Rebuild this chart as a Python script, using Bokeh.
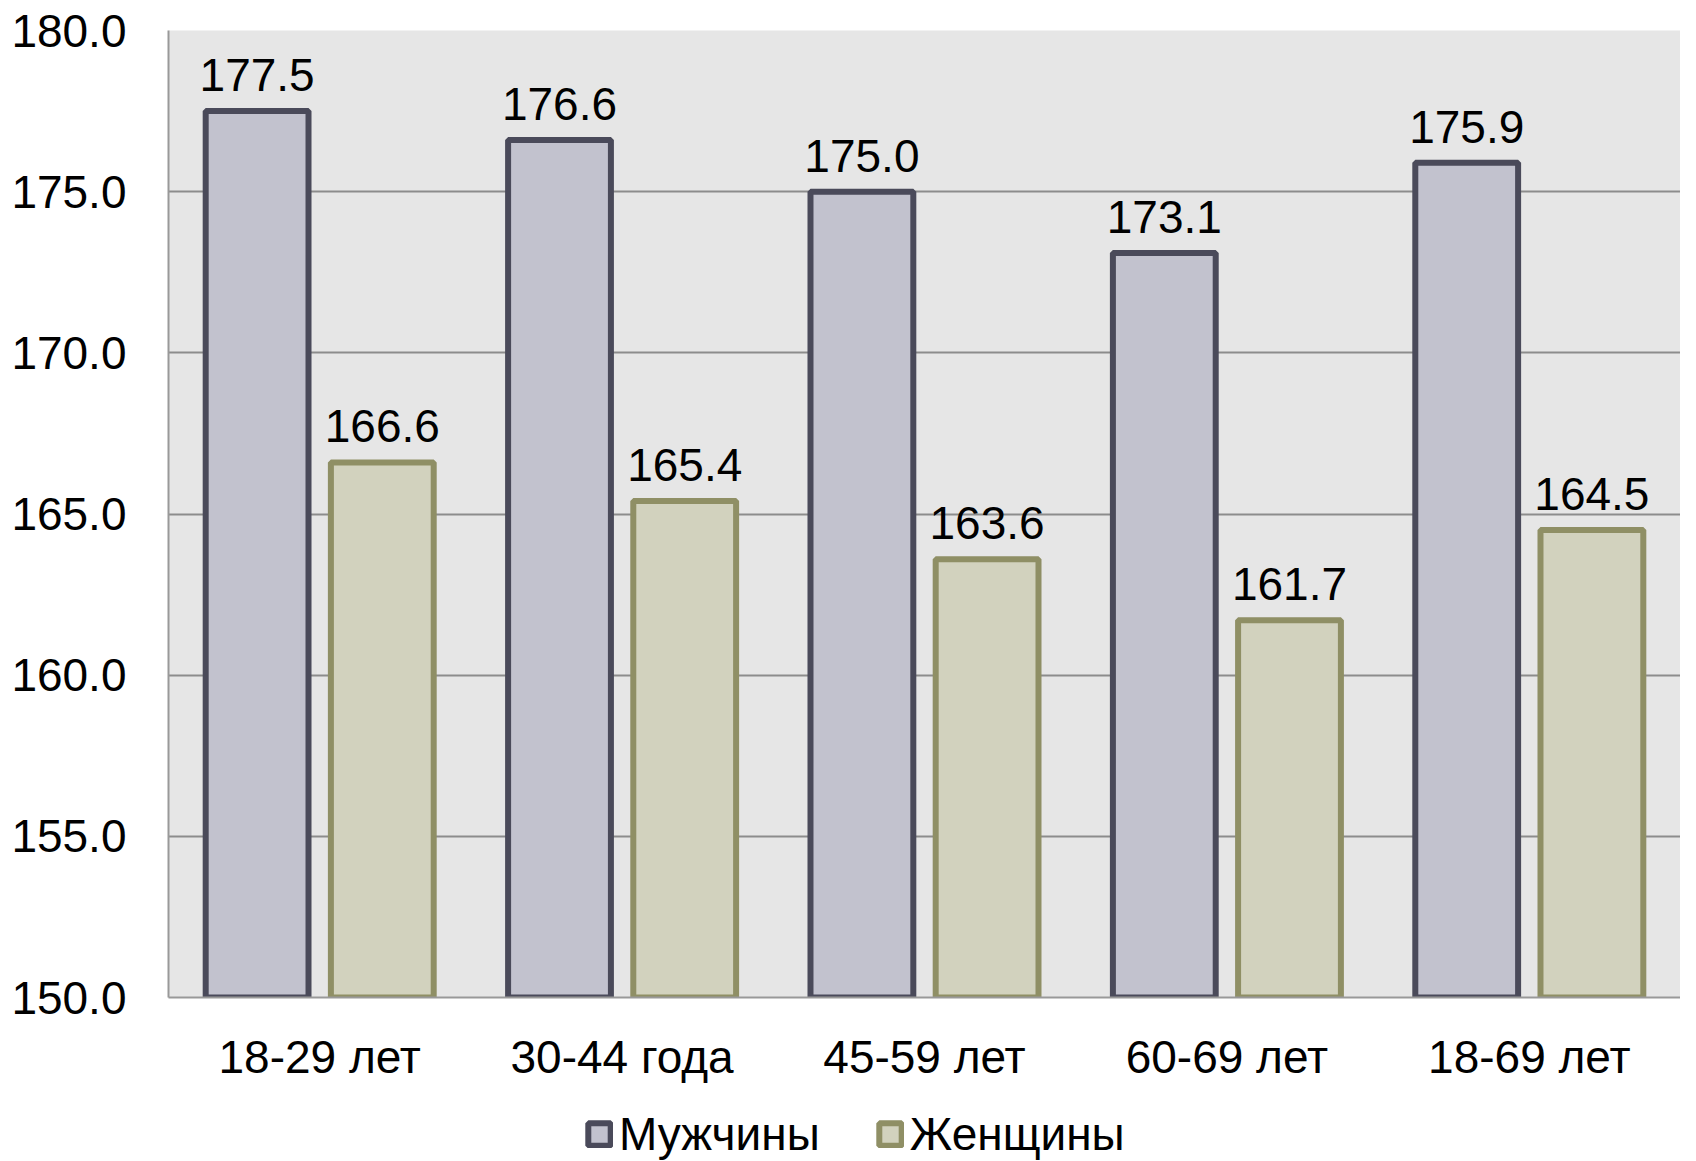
from bokeh.plotting import figure
from bokeh.layouts import column
from bokeh.models import (ColumnDataSource, FactorRange, Legend, LegendItem,
                          FixedTicker, NumeralTickFormatter)
from bokeh.transform import dodge
from bokeh.core.properties import value
from bokeh.embed import file_html
from bokeh.resources import INLINE

categories = ["18-29 лет", "30-44 года", "45-59 лет", "60-69 лет", "18-69 лет"]
men = [177.5, 176.6, 175.0, 173.1, 175.9]
women = [166.6, 165.4, 163.6, 161.7, 164.5]
y_ticks = [150, 155, 160, 165, 170, 175, 180]
series_names = ["Мужчины", "Женщины"]

FONT = "Liberation Sans"
FS = "46px"
MEN_FILL, MEN_LINE = "#C2C2CE", "#4A4A5A"
WOM_FILL, WOM_LINE = "#D2D2BE", "#8F8F65"

src = ColumnDataSource(dict(
    cat=categories, men=men, women=women,
    men_lbl=[f"{v:.1f}" for v in men],
    women_lbl=[f"{v:.1f}" for v in women],
))

p = figure(x_range=FactorRange(*categories), y_range=(150, 180),
           frame_width=1512, frame_height=967, output_backend="svg",
           toolbar_location=None, min_border_left=168, min_border_right=0,
           min_border_top=30, min_border_bottom=104)

p.border_fill_color = "white"
p.outline_line_color = None

bw = 0.34
off = 0.207
p.vbar(x=dodge("cat", -off, range=p.x_range), top="men", bottom=150,
       width=bw, source=src, fill_color=MEN_FILL, line_color=MEN_LINE, line_width=6)
p.vbar(x=dodge("cat", off, range=p.x_range), top="women", bottom=150,
       width=bw, source=src, fill_color=WOM_FILL, line_color=WOM_LINE, line_width=6)

p.text(x=dodge("cat", -off, range=p.x_range), y="men", text="men_lbl",
       source=src, text_align="center", text_baseline="bottom", y_offset=-20,
       text_font=value(FONT), text_font_size=FS, text_color="black")
p.text(x=dodge("cat", off, range=p.x_range), y="women", text="women_lbl",
       source=src, text_align="center", text_baseline="bottom", y_offset=-20,
       text_font=value(FONT), text_font_size=FS, text_color="black")

p.background_fill_color = "#E6E6E6"
p.xgrid.grid_line_color = None
p.ygrid.grid_line_color = "#8C8C8C"
p.ygrid.grid_line_width = 2

p.yaxis.ticker = FixedTicker(ticks=y_ticks)
p.yaxis.formatter = NumeralTickFormatter(format="0.0")
for ax in (p.xaxis, p.yaxis):
    ax.axis_line_color = "#999999"
    ax.axis_line_width = 2
    ax.major_tick_line_color = None
    ax.minor_tick_line_color = None
    ax.major_tick_out = 0
    ax.major_tick_in = 0
    ax.major_label_text_font = FONT
    ax.major_label_text_font_size = FS
    ax.major_label_text_color = "black"
p.yaxis.major_label_standoff = 42
p.xaxis.major_label_standoff = 33

# legend strip below the chart; its swatch renderers are tiny and hidden
# behind the legend's own white background
lg = figure(width=1680, height=60, output_backend="svg", toolbar_location=None,
            x_axis_type=None, y_axis_type=None, min_border=0,
            x_range=(0, 1), y_range=(0, 1))
lg.outline_line_color = None
lg.background_fill_color = "white"
lg.border_fill_color = "white"
lg.xgrid.visible = False
lg.ygrid.visible = False
lr_men = lg.vbar(x=[0.45], top=[0.55], bottom=[0.45], width=0.005,
                 fill_color=MEN_FILL, line_color=MEN_LINE, line_width=6)
lr_wom = lg.vbar(x=[0.45], top=[0.55], bottom=[0.45], width=0.005,
                 fill_color=WOM_FILL, line_color=WOM_LINE, line_width=6)
legend = Legend(items=[LegendItem(label=series_names[0], renderers=[lr_men]),
                       LegendItem(label=series_names[1], renderers=[lr_wom])],
                orientation="horizontal", location=(417, 0),
                label_text_font=FONT, label_text_font_size=FS,
                label_text_color="black", glyph_width=28, glyph_height=28,
                label_standoff=6, spacing=56, padding=0, margin=0,
                border_line_color=None, background_fill_color="white",
                background_fill_alpha=1)
lg.add_layout(legend, "center")

layout = column(p, lg, spacing=0)
open("out.html", "w").write(file_html(layout, INLINE))
